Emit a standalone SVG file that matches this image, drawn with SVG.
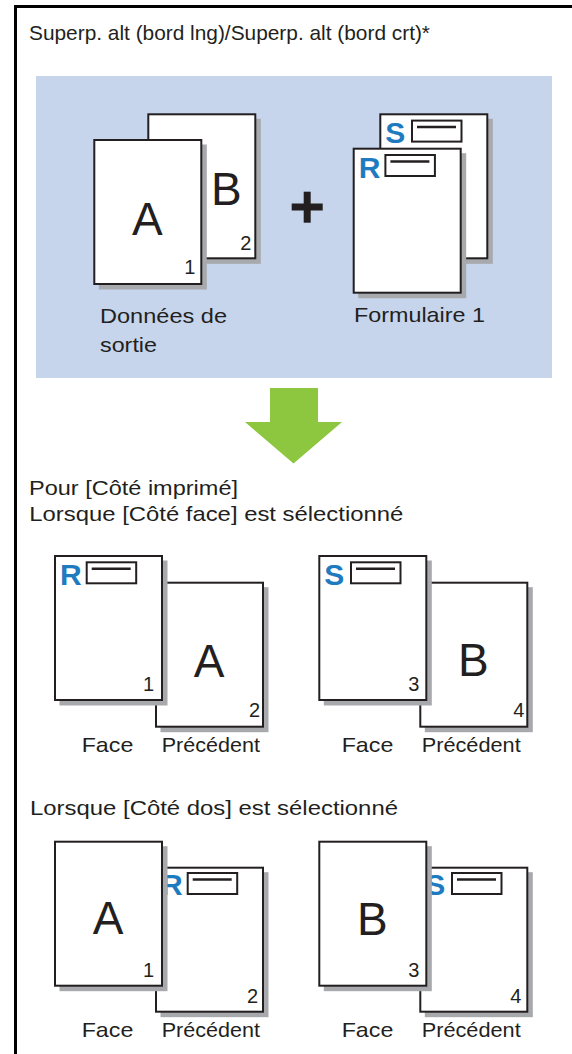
<svg xmlns="http://www.w3.org/2000/svg" xmlns:xlink="http://www.w3.org/1999/xlink" width="572" height="1054" viewBox="0 0 572 1054">
<style>
.t{font-family:"Liberation Sans",Arial,sans-serif;font-size:21px;fill:#231f20}
.big{font-family:"Liberation Sans",Arial,sans-serif;font-size:46px;fill:#231f20;text-anchor:middle}
.num{font-family:"Liberation Sans",Arial,sans-serif;font-size:20px;fill:#231f20;text-anchor:end}
.blue{font-family:"Liberation Sans",Arial,sans-serif;font-size:30px;font-weight:bold;fill:#1f7bbf}
.page{fill:#fff;stroke:#231f20;stroke-width:2}
.shadow{fill:#a7a9ac}
.form{fill:#fff;stroke:#231f20;stroke-width:2}
.fline{stroke:#231f20;stroke-width:2.5}
</style>
<defs>
<g id="pg">
<rect class="shadow" x="5.5" y="5.5" width="108" height="145"/>
<rect class="page" x="1" y="1" width="107" height="144"/>
</g>
<g id="frm">
<rect class="form" x="32.7" y="7.3" width="49.5" height="21"/>
<line class="fline" x1="37.7" y1="13.8" x2="76.7" y2="13.8"/>
</g>
</defs>
<rect x="0" y="0" width="572" height="1054" fill="#fff"/>
<path d="M15.5,1054 V6.5 H572" fill="none" stroke="#000" stroke-width="3"/>
<text id="title" class="t" x="29" y="39.5" textLength="401" lengthAdjust="spacingAndGlyphs">Superp. alt (bord lng)/Superp. alt (bord crt)*</text>
<rect id="panel" x="36" y="76" width="516" height="302" fill="#c6d5ec"/>
<g id="output-data">
<g transform="translate(147.3,113.3)">
<use xlink:href="#pg"/>
<text class="big" x="79" y="92">B</text>
<text class="num" x="104" y="137">2</text>
</g>
<g transform="translate(93.3,139)">
<use xlink:href="#pg"/>
<text class="big" x="54" y="96">A</text>
<text class="num" x="102" y="135">1</text>
</g>
<text class="t" x="100" y="323" textLength="127" lengthAdjust="spacingAndGlyphs">Données de</text>
<text class="t" x="100" y="351.5" textLength="57" lengthAdjust="spacingAndGlyphs">sortie</text>
</g>
<g id="plus">
<rect x="291.7" y="203.5" width="31" height="7" fill="#231f20"/>
<rect x="303.7" y="191.7" width="7" height="31" fill="#231f20"/>
</g>
<g id="form1">
<g transform="translate(379.3,113.3)">
<use xlink:href="#pg"/>
<text class="blue" x="6" y="30">S</text>
<use xlink:href="#frm"/>
</g>
<g transform="translate(352.7,147.7)">
<use xlink:href="#pg"/>
<text class="blue" x="6" y="30.6">R</text>
<use xlink:href="#frm"/>
</g>
<text class="t" x="354" y="321.7" textLength="131" lengthAdjust="spacingAndGlyphs">Formulaire 1</text>
</g>
<g id="connectors">
<polygon points="270,388 318,388 318,422 342,422 293.5,463.5 245,422 270,422" fill="#8dc63f"/>
</g>
<text id="heading1" class="t" x="29" y="494.5" textLength="209" lengthAdjust="spacingAndGlyphs">Pour [Côté imprimé]</text>
<text id="heading2" class="t" x="29.3" y="521" textLength="374" lengthAdjust="spacingAndGlyphs">Lorsque [Côté face] est sélectionné</text>
<g id="face-pair1">
<g transform="translate(155,581.7)">
<use xlink:href="#pg"/>
<text class="big" x="54" y="95">A</text>
<text class="num" x="105" y="135">2</text>
</g>
<g transform="translate(54,555)">
<use xlink:href="#pg"/>
<text class="blue" x="6" y="30">R</text>
<use xlink:href="#frm"/>
<text class="num" x="100" y="135.7">1</text>
</g>
<text class="t" x="81.7" y="751.7" textLength="51.6" lengthAdjust="spacingAndGlyphs">Face</text>
<text class="t" x="161.7" y="751.7" textLength="98.3" lengthAdjust="spacingAndGlyphs">Précédent</text>
</g>
<g id="face-pair2">
<g transform="translate(419.3,581.7)">
<use xlink:href="#pg"/>
<text class="big" x="54" y="94">B</text>
<text class="num" x="105" y="135">4</text>
</g>
<g transform="translate(318.3,555)">
<use xlink:href="#pg"/>
<text class="blue" x="6" y="30">S</text>
<use xlink:href="#frm"/>
<text class="num" x="101" y="135.7">3</text>
</g>
<text class="t" x="341.7" y="751.7" textLength="51.6" lengthAdjust="spacingAndGlyphs">Face</text>
<text class="t" x="421.7" y="751.7" textLength="99" lengthAdjust="spacingAndGlyphs">Précédent</text>
</g>
<text id="heading3" class="t" x="30" y="815" textLength="368" lengthAdjust="spacingAndGlyphs">Lorsque [Côté dos] est sélectionné</text>
<g id="back-pair1">
<g transform="translate(155,866.7)">
<use xlink:href="#pg"/>
<text class="blue" x="6" y="28.3">R</text>
<g transform="translate(0,-1)"><use xlink:href="#frm"/></g>
<text class="num" x="103" y="136.6">2</text>
</g>
<g transform="translate(54,840.7)">
<use xlink:href="#pg"/>
<text class="big" x="54" y="93.3">A</text>
<text class="num" x="100" y="136">1</text>
</g>
<text class="t" x="81.7" y="1037" textLength="51.6" lengthAdjust="spacingAndGlyphs">Face</text>
<text class="t" x="161.7" y="1037" textLength="98.3" lengthAdjust="spacingAndGlyphs">Précédent</text>
</g>
<g id="back-pair2">
<g transform="translate(419.3,866.7)">
<use xlink:href="#pg"/>
<text class="blue" x="6" y="28.3">S</text>
<g transform="translate(0,-1)"><use xlink:href="#frm"/></g>
<text class="num" x="102" y="136.6">4</text>
</g>
<g transform="translate(318.3,840.7)">
<use xlink:href="#pg"/>
<text class="big" x="54" y="94.3">B</text>
<text class="num" x="101" y="136">3</text>
</g>
<text class="t" x="341.7" y="1037" textLength="51.6" lengthAdjust="spacingAndGlyphs">Face</text>
<text class="t" x="421.7" y="1037" textLength="99" lengthAdjust="spacingAndGlyphs">Précédent</text>
</g>
</svg>
